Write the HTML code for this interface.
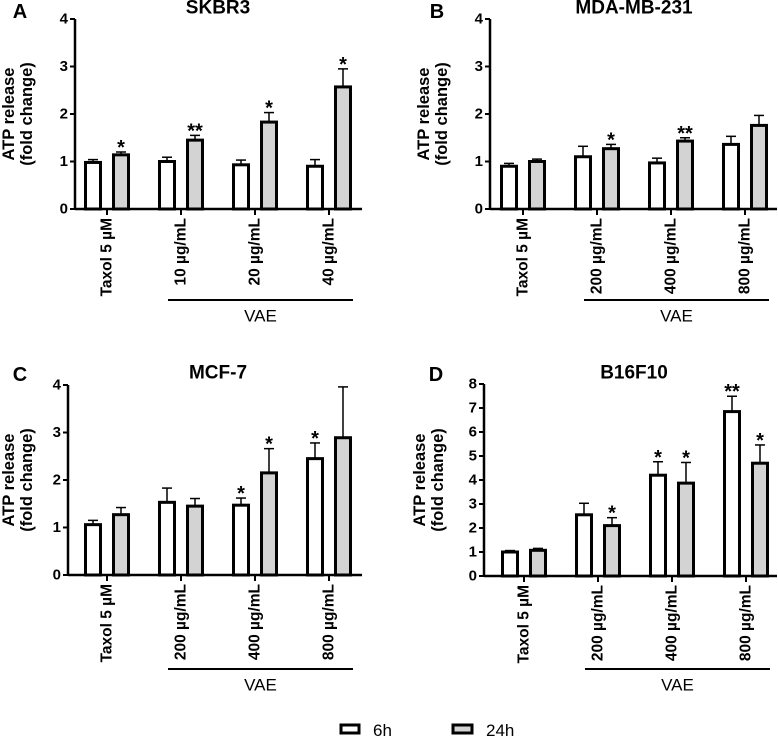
<!DOCTYPE html>
<html><head><meta charset="utf-8"><style>
html,body{margin:0;padding:0;background:#fff}
svg{display:block;font-family:"Liberation Sans",Arial,sans-serif}
</style></head><body>
<svg id="fig" width="778" height="736" viewBox="0 0 778 736" xmlns="http://www.w3.org/2000/svg"></svg>
<script>
const categoriesA = ["Taxol 5 µM","10 µg/mL","20 µg/mL","40 µg/mL"];
const categoriesB = ["Taxol 5 µM","200 µg/mL","400 µg/mL","800 µg/mL"];
const yTicks4 = [0,1,2,3,4];
const yTicks8 = [0,1,2,3,4,5,6,7,8];
const aWhite = [0.98,1.0,0.93,0.9];
const aWhiteErr = [0.06,0.09,0.1,0.14];
const aGray = [1.14,1.45,1.83,2.57];
const aGrayErr = [0.06,0.1,0.2,0.38];
const aWhiteStar = ["","","",""];
const aGrayStar = ["*","**","*","*"];
const bWhite = [0.9,1.1,0.97,1.36];
const bWhiteErr = [0.06,0.22,0.1,0.17];
const bGray = [1.0,1.27,1.43,1.76];
const bGrayErr = [0.05,0.09,0.07,0.21];
const bWhiteStar = ["","","",""];
const bGrayStar = ["","*","**",""];
const cWhite = [1.06,1.53,1.47,2.45];
const cWhiteErr = [0.09,0.3,0.15,0.33];
const cGray = [1.27,1.45,2.15,2.89];
const cGrayErr = [0.15,0.16,0.51,1.07];
const cWhiteStar = ["","","*","*"];
const cGrayStar = ["","","*",""];
const dWhite = [1.0,2.55,4.2,6.85];
const dWhiteErr = [0.06,0.48,0.56,0.64];
const dGray = [1.07,2.1,3.87,4.7];
const dGrayErr = [0.08,0.33,0.86,0.76];
const dWhiteStar = ["","","*","**"];
const dGrayStar = ["","*","*","*"];

const svg = document.getElementById('fig');
const NS = 'http://www.w3.org/2000/svg';
function mk(tag, attrs, parent, text){
  const e = document.createElementNS(NS, tag);
  for (const k in attrs) e.setAttribute(k, attrs[k]);
  if (text !== undefined) e.textContent = text;
  (parent||svg).appendChild(e);
  return e;
}
function panel(o){
  const g = mk('g', {});
  
  
  const y = v => o.bottom - (v / o.ymax) * (o.bottom - o.top);
  const x = i => o.ax + o.first + i * 74;
  const t = mk('text', {x:o.lx, y:o.ly, 'font-size':20, 'font-weight':'bold', 'text-anchor':'middle', 'dominant-baseline':'central'}, g, o.letter);
  
  
  const ti = mk('text', {x:o.tx, y:o.ty, 'font-size':19, 'font-weight':'bold', 'text-anchor':'middle', 'dominant-baseline':'central'}, g, o.title);
  
  
  const yc = (o.top + o.bottom) / 2;
  const yt1 = mk('text', {x:0, y:0, transform:`translate(${o.yt},${yc}) rotate(-90)`, 'font-size':16.5, 'font-weight':'bold', 'text-anchor':'middle', 'dominant-baseline':'central'}, g, 'ATP release');
  
  
  const yt2 = mk('text', {x:0, y:0, transform:`translate(${o.yt+18},${yc}) rotate(-90)`, 'font-size':16.5, 'font-weight':'bold', 'text-anchor':'middle', 'dominant-baseline':'central'}, g, '(fold change)');
  
  
  o.ticks.forEach(v => {
    mk('line', {x1:o.ax-5, x2:o.ax, y1:y(v), y2:y(v), stroke:'#000', 'stroke-width':2}, g);
    const tl = mk('text', {x:o.ax-7, y:y(v), 'font-size':15, 'font-weight':'bold', 'text-anchor':'end', 'dominant-baseline':'central'}, g, v);
    
    
  });
  o.cats.forEach((c, i) => {
    const bars = [[o.w[i], o.we[i], o.ws[i], '#fff', -14, 'bar-6h'], [o.g[i], o.ge[i], o.gs[i], '#d3d3d3', 14, 'bar-24h']];
    bars.forEach(b => {
      const cx = x(i) + b[4];
      const top = y(b[0]), et = y(b[0] + b[1]);
      mk('line', {x1:cx, x2:cx, y1:top, y2:et, stroke:'#000', 'stroke-width':1.5}, g);
      mk('line', {x1:cx-5, x2:cx+5, y1:et, y2:et, stroke:'#000', 'stroke-width':1.5}, g);
      const r = mk('rect', {x:cx-7.5, y:top, width:15, height:o.bottom-top, fill:b[3], stroke:'#000', 'stroke-width':3}, g);
      
      
      if (b[2]) {
        const s = mk('text', {x:cx, y:et+2, 'font-size':20, 'font-weight':'bold', 'text-anchor':'middle'}, g, b[2]);
        
        
      }
    });
    mk('line', {x1:x(i), x2:x(i), y1:o.bottom, y2:o.bottom+6, stroke:'#000', 'stroke-width':2}, g);
    const cl = mk('text', {x:0, y:0, transform:`translate(${x(i)},${o.bottom+9}) rotate(-90)`, 'font-size':15.5, 'font-weight':'bold', 'text-anchor':'end', 'dominant-baseline':'central'}, g, c);
    
    
  });
  mk('line', {x1:o.ax, x2:o.ax, y1:o.top, y2:o.bottom+1, stroke:'#000', 'stroke-width':2.5}, g);
  mk('line', {x1:o.ax-5, x2:o.ax, y1:o.top, y2:o.top, stroke:'#000', 'stroke-width':2}, g);
  mk('line', {x1:o.ax, x2:o.xend, y1:o.bottom, y2:o.bottom, stroke:'#000', 'stroke-width':2.5}, g);
  const vl = mk('line', {x1:x(1)-13, x2:x(3)+24, y1:o.vy, y2:o.vy, stroke:'#000', 'stroke-width':2}, g);
  
  
  const vt = mk('text', {x:(x(1)-13 + x(3)+24)/2, y:o.vy+16, 'font-size':17, 'text-anchor':'middle', 'dominant-baseline':'central'}, g, 'VAE');
  
  
}
panel({id:'a', letter:'A', lx:20, ly:12, title:'SKBR3', tx:218, ty:8, ax:75, yt:9, first:32, top:19, bottom:209, xend:362, ymax:4, ticks:yTicks4, cats:categoriesA, w:aWhite, we:aWhiteErr, ws:aWhiteStar, g:aGray, ge:aGrayErr, gs:aGrayStar, vy:300});
panel({id:'b', letter:'B', lx:437, ly:12, title:'MDA-MB-231', tx:634, ty:8, ax:490, yt:424, first:33, top:19, bottom:209, xend:777, ymax:4, ticks:yTicks4, cats:categoriesB, w:bWhite, we:bWhiteErr, ws:bWhiteStar, g:bGray, ge:bGrayErr, gs:bGrayStar, vy:300});
panel({id:'c', letter:'C', lx:20, ly:375, title:'MCF-7', tx:218, ty:373, ax:68, yt:9, first:39, top:385, bottom:575, xend:362, ymax:4, ticks:yTicks4, cats:categoriesB, w:cWhite, we:cWhiteErr, ws:cWhiteStar, g:cGray, ge:cGrayErr, gs:cGrayStar, vy:669});
panel({id:'d', letter:'D', lx:436, ly:375, title:'B16F10', tx:634, ty:373, ax:484, yt:420, first:40, top:384, bottom:576, xend:777, ymax:8, ticks:yTicks8, cats:categoriesB, w:dWhite, we:dWhiteErr, ws:dWhiteStar, g:dGray, ge:dGrayErr, gs:dGrayStar, vy:669});

const lg = mk('g', {});


const l1 = mk('rect', {x:341, y:725, width:18, height:8, fill:'#fff', stroke:'#000', 'stroke-width':3}, lg);


const lt1 = mk('text', {x:373, y:736, 'font-size':17}, lg, '6h');


const l2 = mk('rect', {x:453, y:725, width:19, height:8, fill:'#d3d3d3', stroke:'#000', 'stroke-width':3}, lg);


const lt2 = mk('text', {x:486, y:736, 'font-size':17}, lg, '24h');


</script>
</body></html>
